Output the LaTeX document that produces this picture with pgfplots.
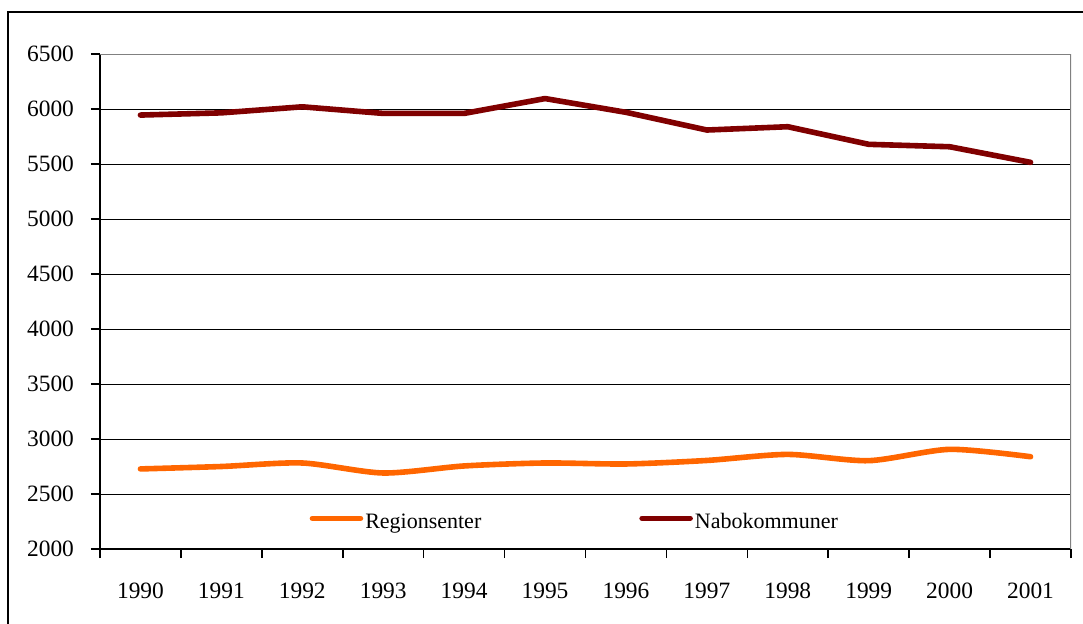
\documentclass[border=0pt]{standalone}
\usepackage{fontspec}
\setmainfont{Liberation Serif}
\usepackage{pgfplots}
\pgfplotsset{compat=1.18}

\definecolor{nabo}{HTML}{800000}
\definecolor{region}{HTML}{FF6600}
\definecolor{framegray}{HTML}{808080}

% 1 px of the reference = 0.5pt
\begin{document}
\begin{tikzpicture}
\clip (-50pt,-37pt) rectangle (491.5pt,274.5pt);
\begin{axis}[
    at={(0pt,0pt)}, anchor=origin,
    scale only axis,
    width=485.5pt,
    height=247.5pt,
    font=\fontsize{11}{13}\selectfont,
    /pgf/number format/assume math mode=true,
    xmin=0.5, xmax=12.5,
    ymin=2000, ymax=6500,
    ytick={2000,2500,...,6500},
    yticklabel style={/pgf/number format/set thousands separator={}, xshift=-5pt,
        font=\fontsize{11.7}{13}\selectfont},
    xtick={0.5,1.5,...,12.5},
    xticklabels={1990,1991,1992,1993,1994,1995,1996,1997,1998,1999,2000,2001,{}},
    xticklabel style={xshift=20.23pt, yshift=-9pt, font=\fontsize{11.7}{13}\selectfont},
    tick align=outside,
    major tick length=4.5pt,
    tick style={black, line width=0.8pt},
    ymajorgrids=true,
    grid style={black, line width=0.5pt},
    axis x line*=bottom,
    axis y line*=left,
    axis line style={black, line width=1pt, -},
    legend columns=2,
    legend style={draw=none, fill=none, at={(rel axis cs:0.2155,0.062)}, anchor=west,
        inner sep=0pt, nodes={inner xsep=1pt, inner ysep=0pt},
        /tikz/every even column/.append style={column sep=78pt},
        /tikz/every odd column/.append style={column sep=0pt}},
    legend image code/.code={\draw[#1] (0pt,0pt) -- (24pt,0pt);},
]

\addplot[color=region, line width=2.8pt, line cap=round, smooth, tension=0.45] coordinates {
  (1,2728)(2,2750)(3,2782)(4,2691)(5,2755)(6,2782)(7,2773)(8,2805)(9,2860)(10,2803)(11,2906)(12,2839)
};
\addlegendentry{\raisebox{-4pt}{Regionsenter}}

\addplot[color=nabo, line width=2.8pt, line cap=round, line join=round] coordinates {
  (1,5945)(2,5965)(3,6020)(4,5960)(5,5960)(6,6095)(7,5970)(8,5809)(9,5839)(10,5679)(11,5657)(12,5515)
};
\addlegendentry{\raisebox{-4pt}{Nabokommuner}}

\draw[framegray, line width=1pt] (rel axis cs:0,1) -- (rel axis cs:1,1) -- (rel axis cs:1,0);
\end{axis}
\draw[black, line width=1pt] (-46pt,-60pt) -- (-46pt,268.5pt) -- (520pt,268.5pt);
\end{tikzpicture}
\end{document}
